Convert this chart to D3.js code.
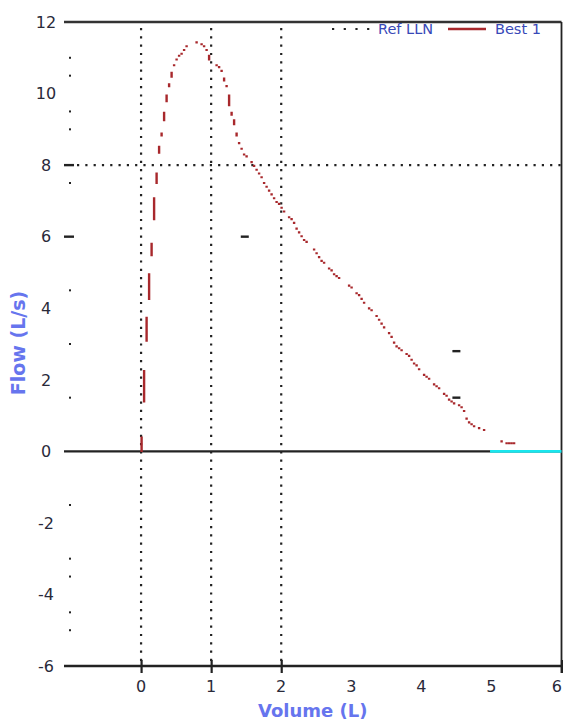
<!DOCTYPE html>
<html>
<head>
<meta charset="utf-8">
<script src="https://cdn.jsdelivr.net/npm/d3@7"></script>
<style>
  html, body { margin: 0; padding: 0; background: #fff; }
  svg { display: block; }
</style>
</head>
<body>
<svg id="chart" width="563" height="723"></svg>
<script>
// Forced expiratory flow–volume curve (volume in L, flow in L/s)
const curveVolume = [0.01, 0.02, 0.04, 0.05, 0.07, 0.08, 0.11, 0.12, 0.15, 0.16, 0.18, 0.19, 0.22,
  0.26, 0.31, 0.34, 0.38, 0.42, 0.46, 0.54, 0.59, 0.66, 0.81, 0.92, 0.96, 0.99, 1.04, 1.12, 1.16,
  1.19, 1.24, 1.26, 1.32, 1.35, 1.38, 1.42, 1.49, 1.58, 1.65, 1.76, 1.88, 1.96, 2.04, 2.16, 2.26,
  2.35, 2.46, 2.54, 2.61, 2.76, 2.88, 2.96, 3.08, 3.19, 3.31, 3.42, 3.58, 3.65, 3.76, 3.88, 3.99,
  4.18, 4.38, 4.45, 4.54, 4.61, 4.65, 4.76, 4.89, 5.06, 5.18, 5.35];
const curveFlow = [0.00, 0.80, 1.56, 2.28, 3.00, 3.62, 4.32, 4.91, 5.63, 5.91, 6.52, 7.03, 7.59,
  8.48, 9.04, 9.54, 10.05, 10.38, 10.74, 11.05, 11.14, 11.33, 11.42, 11.28, 11.11, 10.89, 10.83,
  10.72, 10.58, 10.35, 10.10, 9.68, 9.27, 8.99, 8.71, 8.51, 8.26, 8.09, 7.87, 7.51, 7.14, 6.92,
  6.70, 6.44, 6.08, 5.86, 5.66, 5.41, 5.27, 4.96, 4.74, 4.63, 4.43, 4.13, 3.90, 3.60, 3.18, 2.92,
  2.79, 2.51, 2.25, 1.89, 1.50, 1.36, 1.28, 1.14, 0.91, 0.69, 0.61, 0.38, 0.24, 0.24];

// Lower-limit-of-normal reference markers
const refVolume = [1.48, 4.5, 4.5];
const refFlow = [6.0, 2.8, 1.5];

// End-of-test plateau on the zero-flow line
const plateauVolume = [4.98, 6];
const plateauFlow = [0, 0];

const xTickValues = [0, 1, 2, 3, 4, 5, 6];
const xTickLabels = ["0", "1", "2", "3", "4", "5", "6"];
const xTickMarks = [0, 1, 2, 6];
const yTickValues = [12, 10, 8, 6, 4, 2, 0, -2, -4, -6];
const yTickLabels = ["12", "10", "8", "6", "4", "2", "0", "-2", "-4", "-6"];
const yTickMarks = [8, 6];
const yMinorTicks = [11, 10.5, 9.5, 9, 7.5, 4.5, 3, 1.5, -1.5, -3, -3.5, -4.5, -5];
const gridVolumes = [0, 1, 2];
const gridFlows = [8];
const legendLabels = ["Ref LLN", "Best 1"];

const svg = d3.select("#chart");
const W = 563, H = 723;
const plot = { left: 64, right: 561.5, top: 22, bottom: 666 };

const x = d3.scaleLinear().domain([-1.1, 6]).range([plot.left, plot.right]);
const y = d3.scaleLinear().domain([-6, 12]).range([plot.bottom, plot.top]);

const ink = "#222";
const red = "#a8282c";

// Dotted grid
const grid = svg.append("g").attr("stroke", ink).attr("stroke-width", 2.2)
  .attr("stroke-dasharray", "2.2 6.1");
grid.selectAll("line.v").data(gridVolumes).join("line").attr("class", "v")
  .attr("x1", d => x(d)).attr("x2", d => x(d))
  .attr("y1", plot.top + 6).attr("y2", plot.bottom - 4);
grid.selectAll("line.h").data(gridFlows).join("line").attr("class", "h")
  .attr("y1", d => y(d)).attr("y2", d => y(d))
  .attr("x1", plot.left + 13).attr("x2", plot.right);

// Frame: top, bottom, right and the zero-flow axis
const frame = svg.append("g").attr("stroke", ink);
frame.append("line").attr("x1", plot.left).attr("x2", plot.right)
  .attr("y1", y(12)).attr("y2", y(12)).attr("stroke-width", 2.6).attr("stroke", "#333");
frame.append("line").attr("x1", plot.left).attr("x2", plot.right)
  .attr("y1", y(-6)).attr("y2", y(-6)).attr("stroke-width", 2.4);
frame.append("line").attr("x1", plot.left).attr("x2", plot.right)
  .attr("y1", y(0)).attr("y2", y(0)).attr("stroke-width", 2.4);
frame.append("line").attr("x1", plot.right).attr("x2", plot.right)
  .attr("y1", plot.top).attr("y2", plot.bottom + 7).attr("stroke-width", 1.8);

// Plateau segment
svg.append("path")
  .datum(d3.zip(plateauVolume, plateauFlow))
  .attr("fill", "none").attr("stroke", "#19e6ee").attr("stroke-width", 2.6)
  .attr("d", d3.line().x(d => x(d[0])).y(d => y(d[1])));

// Axis ticks
const xAxis = d3.axisBottom(x).tickValues(xTickMarks).tickSize(7).tickFormat("");
svg.append("g").attr("transform", `translate(0,${plot.bottom})`).call(xAxis)
  .call(g => g.select(".domain").remove())
  .call(g => g.selectAll("line").attr("stroke", ink).attr("stroke-width", 2.2))
  .call(g => g.selectAll(".tick").append("line").attr("y1", -6).attr("y2", 0)
    .attr("stroke", ink).attr("stroke-width", 2.2));

svg.append("g").selectAll("line").data(yTickMarks).join("line")
  .attr("x1", plot.left).attr("x2", plot.left + 10)
  .attr("y1", d => y(d)).attr("y2", d => y(d))
  .attr("stroke", ink).attr("stroke-width", 2.4);

svg.append("g").selectAll("rect").data(yMinorTicks).join("rect")
  .attr("x", plot.left + 5).attr("y", d => y(d) - 1)
  .attr("width", 2).attr("height", 2).attr("fill", ink);

// Tick labels
const font = "'DejaVu Sans', sans-serif";
const lastX = xTickValues[xTickValues.length - 1];
svg.append("g").selectAll("text").data(xTickValues).join("text")
  .attr("x", d => d === lastX ? W - 1 : x(d)).attr("y", 692)
  .attr("text-anchor", d => d === lastX ? "end" : "middle")
  .attr("font-family", font).attr("font-size", 16).attr("fill", "#2a2a3a")
  .text((d, i) => xTickLabels[i]);

svg.append("g").selectAll("text").data(yTickValues).join("text")
  .attr("x", 46).attr("y", d => y(d)).attr("dy", "0.36em")
  .attr("text-anchor", "middle")
  .attr("font-family", font).attr("font-size", 16).attr("fill", "#2a2a3a")
  .text((d, i) => yTickLabels[i]);

// Axis titles
svg.append("text")
  .attr("x", (plot.left + plot.right) / 2).attr("y", 717)
  .attr("text-anchor", "middle")
  .attr("font-family", font).attr("font-weight", "bold").attr("font-size", 18)
  .attr("fill", "#6675ee").text("Volume (L)");
svg.append("text")
  .attr("transform", `translate(25,${343}) rotate(-90)`)
  .attr("text-anchor", "middle")
  .attr("font-family", font).attr("font-weight", "bold").attr("font-size", 19)
  .attr("fill", "#6675ee").text("Flow (L/s)");

// Reference markers
svg.append("g").selectAll("line").data(d3.zip(refVolume, refFlow)).join("line")
  .attr("x1", d => x(d[0]) - 4).attr("x2", d => x(d[0]) + 4)
  .attr("y1", d => y(d[1])).attr("y2", d => y(d[1]))
  .attr("stroke", ink).attr("stroke-width", 2.4);

// Measured curve. The trace is a fine pen line shown on a coarse raster:
// a raster cell is inked where its sample point falls inside the pen stroke.
function rasterCells(points, cw, ch, halfWidth, ox, oy) {
  const seen = new Set();
  const cells = [];
  for (let i = 0; i < points.length - 1; i++) {
    const [ax, ay] = points[i], [bx, by] = points[i + 1];
    const dx = bx - ax, dy = by - ay;
    const len2 = dx * dx + dy * dy || 1e-9;
    const i0 = Math.floor((Math.min(ax, bx) - 1 - ox) / cw), i1 = Math.ceil((Math.max(ax, bx) + 1 - ox) / cw);
    const j0 = Math.floor((Math.min(ay, by) - 1 - oy) / ch), j1 = Math.ceil((Math.max(ay, by) + 1 - oy) / ch);
    for (let ci = i0; ci <= i1; ci++) {
      for (let cj = j0; cj <= j1; cj++) {
        const qx = ox + ci * cw, qy = oy + cj * ch;
        let t = ((qx - ax) * dx + (qy - ay) * dy) / len2;
        t = Math.max(0, Math.min(1, t));
        const d = Math.hypot(qx - (ax + t * dx), qy - (ay + t * dy));
        const key = ci + "," + cj;
        if (d < halfWidth && !seen.has(key)) { seen.add(key); cells.push([qx, qy]); }
      }
    }
  }
  return cells;
}

// Smooth pen path through the measured points, then sampled densely
const penLine = d3.line().x(d => x(d[0])).y(d => y(d[1])).curve(d3.curveCatmullRom.alpha(0.5));
const measure = svg.append("path").attr("fill", "none").attr("stroke", "none")
  .attr("d", penLine(d3.zip(curveVolume, curveFlow)));
const node = measure.node();
const total = node.getTotalLength();
const dense = [];
for (let s = 0; s <= total; s += 0.5) {
  const p = node.getPointAtLength(s);
  dense.push([p.x, p.y]);
}
const pEnd = node.getPointAtLength(total);
dense.push([pEnd.x, pEnd.y]);
measure.remove();

const cw = 2.5, ch = 1.9;
const cells = rasterCells(dense, cw, ch, 0.5, 141.6, 0.6);
const trace = d3.path();
cells.forEach(([cx, cy]) => trace.rect(cx - 1.2, cy - 1.05, 2.4, 2.1));
svg.append("path").attr("class", "flow-volume-trace")
  .attr("fill", red).attr("d", trace.toString());

// Legend
const legend = svg.append("g").attr("transform", "translate(0,29)");
legend.append("line").attr("x1", 332).attr("x2", 370).attr("y1", 0).attr("y2", 0)
  .attr("stroke", ink).attr("stroke-width", 2.2).attr("stroke-dasharray", "2.2 9.5");
legend.append("text").attr("x", 378).attr("y", 0).attr("dy", "0.36em")
  .attr("font-family", font).attr("font-size", 14.5).attr("fill", "#3848b8")
  .text(legendLabels[0]);
legend.append("line").attr("x1", 448).attr("x2", 486).attr("y1", 0).attr("y2", 0)
  .attr("stroke", red).attr("stroke-width", 2.6);
legend.append("text").attr("x", 495).attr("y", 0).attr("dy", "0.36em")
  .attr("font-family", font).attr("font-size", 14.5).attr("fill", "#3848b8")
  .text(legendLabels[1]);
</script>
</body>
</html>
